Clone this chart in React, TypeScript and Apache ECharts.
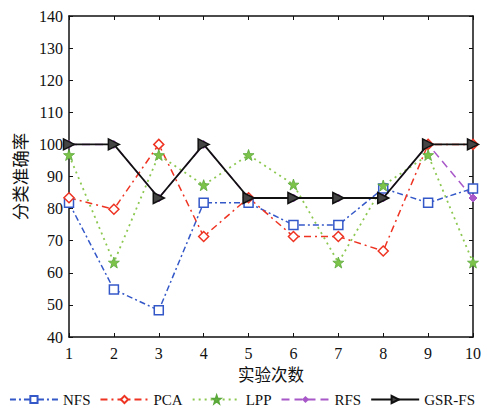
import React, { useEffect, useRef } from "react";
import * as echarts from "echarts";

const xValues = [1, 2, 3, 4, 5, 6, 7, 8, 9, 10];
const nfs = [81.8, 54.8, 48.3, 81.8, 81.8, 74.9, 74.9, 86.3, 81.8, 86.3];
const pca = [83.4, 79.8, 100, 71.3, 83.4, 71.3, 71.3, 66.8, 100, 100];
const lpp = [96.7, 63.2, 96.7, 87.3, 96.7, 87.5, 63.2, 87.2, 96.7, 63.2];
const rfs = [100, 100, 83.3, 100, 83.3, 83.3, 83.3, 83.3, 100, 83.3];
const gsr = [100, 100, 83.3, 100, 83.3, 83.3, 83.3, 83.3, 100, 100];

const serif = "Liberation Serif";
const cjk = "'Noto Sans CJK SC'";

const pairs = (ys: number[]) => xValues.map((x, i) => [x, ys[i]]);

export default function App() {
  const ref = useRef<HTMLDivElement>(null);
  useEffect(() => {
    if (!ref.current) return;
    const chart = echarts.init(ref.current, null, { renderer: "svg" });
    const axisLine = { show: true, lineStyle: { color: "#111", width: 1.5 } };
    const hiddenAxisCommon = {
      axisLine,
      axisTick: { show: true, inside: true, length: 4, lineStyle: { color: "#111" } },
      axisLabel: { show: false },
      splitLine: { show: false },
    };
    chart.setOption({
      animation: false,
      backgroundColor: "#fff",
      grid: { left: 69, right: 9, top: 16, bottom: 77 },
      legend: {
        bottom: 2,
        left: "center",
        itemWidth: 48,
        itemHeight: 9,
        itemGap: 9,
        textStyle: { fontFamily: serif, fontSize: 15, color: "#111" },
        data: ["NFS", "PCA", "LPP", "RFS", "GSR-FS"],
      },
      xAxis: [
        {
          type: "value",
          min: 1,
          max: 10,
          interval: 1,
          name: "实验次数",
          nameLocation: "middle",
          nameGap: 29,
          nameTextStyle: { fontFamily: cjk, fontSize: 16.5, color: "#111" },
          axisLine,
          axisTick: { show: true, inside: true, length: 4, lineStyle: { color: "#111" } },
          axisLabel: { fontFamily: serif, fontSize: 16, color: "#111", margin: 8 },
          splitLine: { show: false },
        },
        { type: "value", min: 1, max: 10, interval: 1, position: "top", ...hiddenAxisCommon },
      ],
      yAxis: [
        {
          type: "value",
          min: 40,
          max: 140,
          interval: 10,
          name: "分类准确率",
          nameLocation: "middle",
          nameGap: 40,
          nameRotate: 90,
          nameTextStyle: { fontFamily: cjk, fontSize: 17.5, color: "#111" },
          axisLine,
          axisTick: { show: true, inside: true, length: 4, lineStyle: { color: "#111" } },
          axisLabel: { fontFamily: serif, fontSize: 16, color: "#111", margin: 6 },
          splitLine: { show: false },
        },
        { type: "value", min: 40, max: 140, interval: 10, position: "right", ...hiddenAxisCommon },
      ],
      series: [
        {
          name: "NFS",
          type: "line",
          data: pairs(nfs),
          symbol: "rect",
          symbolSize: 9,
          itemStyle: { color: "#fff", borderColor: "#3458c8", borderWidth: 1.5 },
          lineStyle: { color: "#3458c8", width: 1.5, type: [6, 3, 2, 3] },
          z: 3,
        },
        {
          name: "PCA",
          type: "line",
          data: pairs(pca),
          symbol: "diamond",
          symbolSize: 10,
          itemStyle: { color: "#fff", borderColor: "#ee3322", borderWidth: 1.5 },
          lineStyle: { color: "#ee3322", width: 1.5, type: [7, 4, 2, 4] },
          z: 3,
        },
        {
          name: "LPP",
          type: "line",
          data: pairs(lpp),
          symbol: "path://M0,-10 L2.35,-3.24 L9.51,-3.09 L3.8,1.24 L5.88,8.09 L0,4 L-5.88,8.09 L-3.8,1.24 L-9.51,-3.09 L-2.35,-3.24 Z",
          symbolSize: 11,
          itemStyle: { color: "#7cc34a", borderColor: "#5aa83a", borderWidth: 0.8 },
          lineStyle: { color: "#8cc850", width: 1.8, type: [2, 4] },
          z: 3,
        },
        {
          name: "RFS",
          type: "line",
          data: pairs(rfs),
          symbol: "diamond",
          symbolSize: 8,
          itemStyle: { color: "#a858c8", borderColor: "#a858c8" },
          lineStyle: { color: "#a858c8", width: 1.5, type: [8, 5] },
          z: 2,
        },
        {
          name: "GSR-FS",
          type: "line",
          data: pairs(gsr),
          symbol: "triangle",
          symbolRotate: -90,
          symbolSize: 11,
          itemStyle: { color: "#444", borderColor: "#111", borderWidth: 1.5 },
          lineStyle: { color: "#111", width: 1.8, type: "solid" },
          z: 4,
        },
      ],
    });
    return () => chart.dispose();
  }, []);
  return <div ref={ref} style={{ width: 484, height: 414, position: "absolute", left: 0, top: 0 }} />;
}
